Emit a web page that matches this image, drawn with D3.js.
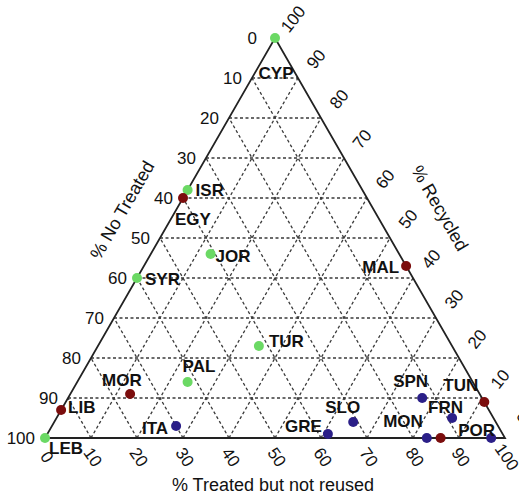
<!DOCTYPE html>
<html>
<head>
<meta charset="utf-8">
<script src="https://cdn.jsdelivr.net/npm/d3@7"></script>
<style>
  body { margin: 0; background: #fff; }
  text { font-family: "Liberation Sans", Arial, Helvetica, sans-serif; fill: #111; }
</style>
</head>
<body>
<div id="chart"></div>
<script>
// data (percentages, each row sums to 100)
const countries        = ["CYP","ISR","EGY","JOR","SYR","MAL","TUR","PAL","MOR","LIB","LEB","ITA","GRE","SLO","SPN","MON","","FRN","TUN","POR"];
const noTreated        = [0,   38,  40,  41,  60,  0,   42,  62,  76,  93,  100, 70,  38,  31,  13,  17,  14,  9,   0,   3];
const treatedNotReused = [0,   0,   0,   13,  0,   57,  35,  24,  13,  0,   0,   27,  61,  65,  77,  83,  86,  86,  91,  97];
const recycled         = [100, 62,  60,  46,  40,  43,  23,  14,  11,  7,   0,   3,   1,   4,   10,  0,   0,   5,   9,   0];
const groups           = ["g","g", "r", "g", "g", "r", "g", "g", "r", "r", "g", "b", "b", "b", "b", "b", "r", "b", "r", "b"];
const ticks = [0,10,20,30,40,50,60,70,80,90,100];

//convenience
const W = 519, H = 496;
const colors = {g: "#6bd964", r: "#7b0d0d", b: "#2b1f88"};

// label placement around each dot: [dx, dy, anchor]
const labelPos = {
  CYP: [1, 41, "middle"], ISR: [8, 6, "start"], EGY: [-8, 27, "start"], JOR: [5, 8, "start"],
  SYR: [8, 7, "start"], MAL: [-7, 7, "end"], TUR: [10, 1, "start"], PAL: [-5, -10, "start"],
  MOR: [-28, -8, "start"], LIB: [7, 3, "start"], LEB: [4, 16, "start"], ITA: [-8, 8, "end"],
  GRE: [-6, -2, "end"], SLO: [-28, -9, "start"], SPN: [-29, -11, "start"], MON: [-4, -11, "end"],
  FRN: [-24, -5, "start"], TUN: [-41, -11, "start"], POR: [-33, -2, "start"]
};

const data = countries.map((c, i) => ({
  name: c, n: noTreated[i], t: treatedNotReused[i], r: recycled[i], g: groups[i]
}));

//scales: x along the base (treated), y up the height (recycled)
const xScale = d3.scaleLinear().domain([0, 100]).range([45, 505]);
const yScale = d3.scaleLinear().domain([0, 100]).range([438, 38]);
const px = (t, r) => xScale(t + r * 0.5);
const py = r => yScale(r);

const svg = d3.select("#chart").append("svg")
  .attr("width", W)
  .attr("height", H);

//grid
const grid = [];
for (let v = 10; v < 100; v += 10) {
  grid.push([[0, v], [100 - v, v]]);           // constant recycled
  grid.push([[v, 0], [v, 100 - v]]);           // constant treated
  grid.push([[100 - v, 0], [0, 100 - v]]);     // constant no treated
}
svg.append("g").selectAll("line")
  .data(grid)
  .enter()
  .append("line")
  .attr("x1", d => px(d[0][0], d[0][1]))
  .attr("y1", d => py(d[0][1]))
  .attr("x2", d => px(d[1][0], d[1][1]))
  .attr("y2", d => py(d[1][1]))
  .attr("stroke", "#3a3a3a")
  .attr("stroke-width", 1.3)
  .attr("stroke-dasharray", "3,2.5");

//outline
const corners = [[0, 0], [100, 0], [0, 100]];
svg.append("path")
  .attr("d", d3.line()(corners.map(c => [px(c[0], c[1]), py(c[1])])) + "Z")
  .attr("fill", "none")
  .attr("stroke", "#222")
  .attr("stroke-width", 1.8);

//left ticks (no treated, on edge treated = 0)
svg.append("g").selectAll("text")
  .data(ticks)
  .enter()
  .append("text")
  .attr("x", d => px(0, 100 - d) - (d === 0 ? 18 : 10))
  .attr("y", d => py(100 - d))
  .attr("dy", "0.35em")
  .attr("text-anchor", "end")
  .style("font-size", "17px")
  .text(d => d);

//right ticks (recycled, on edge no treated = 0)
svg.append("g").selectAll("text")
  .data(ticks)
  .enter()
  .append("text")
  .attr("transform", d => "translate(" + (px(100 - d, d) + 18) + "," + (py(d) - 19) + ") rotate(-52)")
  .attr("dy", "0.35em")
  .attr("text-anchor", "middle")
  .style("font-size", "17px")
  .text(d => d);

//bottom ticks (treated but not reused)
svg.append("g").selectAll("text")
  .data(ticks)
  .enter()
  .append("text")
  .attr("transform", d => "translate(" + (px(d, 0) + 2) + "," + (py(0) + 19) + ") rotate(55)")
  .attr("dy", "0.35em")
  .attr("text-anchor", "middle")
  .style("font-size", "17px")
  .text(d => d);

//axis titles
svg.append("text")
  .attr("transform", "translate(122,210) rotate(-60)")
  .attr("dy", "0.35em")
  .attr("text-anchor", "middle")
  .style("font-size", "18px")
  .text("% No Treated");
svg.append("text")
  .attr("transform", "translate(440,208) rotate(60)")
  .attr("dy", "0.35em")
  .attr("text-anchor", "middle")
  .style("font-size", "18px")
  .text("% Recycled");
svg.append("text")
  .attr("x", 273)
  .attr("y", 491)
  .attr("text-anchor", "middle")
  .style("font-size", "18px")
  .text("% Treated but not reused");

//points
svg.append("g").selectAll("circle")
  .data(data)
  .enter()
  .append("circle")
  .attr("cx", d => px(d.t, d.r))
  .attr("cy", d => py(d.r))
  .attr("r", 5)
  .attr("fill", d => colors[d.g]);

//labels
svg.append("g").selectAll("text")
  .data(data.filter(d => d.name))
  .enter()
  .append("text")
  .attr("x", d => px(d.t, d.r) + labelPos[d.name][0])
  .attr("y", d => py(d.r) + labelPos[d.name][1])
  .attr("text-anchor", d => labelPos[d.name][2])
  .style("font-size", "17px")
  .style("font-weight", "bold")
  .text(d => d.name);
</script>
</body>
</html>
